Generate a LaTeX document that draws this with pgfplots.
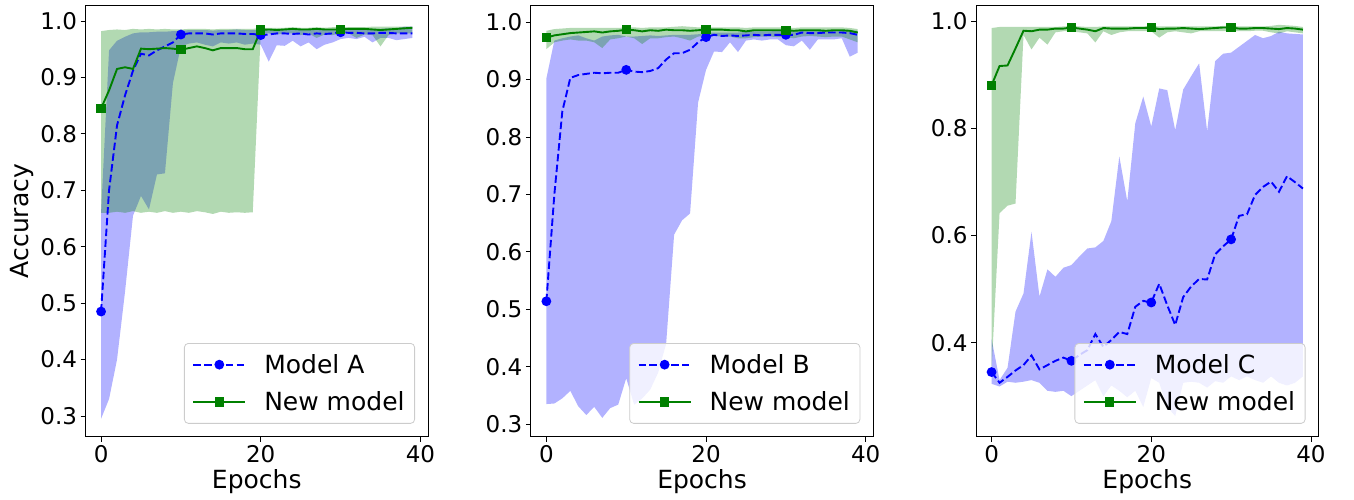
\documentclass[border=0pt]{standalone}
\usepackage{fontspec}
\setmainfont{DejaVu Sans}
\usepackage{pgfplots}
\pgfplotsset{compat=1.18}
\usepackage{pgfplotstable}
\usepgfplotslibrary{fillbetween}
\definecolor{mgreen}{RGB}{0,128,0}
\definecolor{mblue}{RGB}{0,0,255}
\definecolor{legedge}{RGB}{204,204,204}

% Panel 1: Model A
\pgfplotstableread{
x m lo hi
0 0.485 0.295 0.660
1 0.700 0.330 0.948
2 0.815 0.400 0.965
3 0.868 0.520 0.972
4 0.912 0.655 0.978
5 0.942 0.690 0.980
6 0.939 0.666 0.980
7 0.948 0.728 0.981
8 0.955 0.730 0.981
9 0.962 0.890 0.982
10 0.976 0.955 0.982
11 0.978 0.960 0.984
12 0.978 0.962 0.984
13 0.978 0.958 0.984
14 0.976 0.955 0.983
15 0.978 0.962 0.984
16 0.978 0.960 0.984
17 0.978 0.962 0.985
18 0.977 0.958 0.984
19 0.977 0.960 0.984
20 0.975 0.958 0.984
21 0.976 0.928 0.984
22 0.978 0.957 0.985
23 0.978 0.956 0.985
24 0.977 0.965 0.985
25 0.978 0.955 0.984
26 0.976 0.962 0.985
27 0.978 0.950 0.985
28 0.977 0.958 0.985
29 0.978 0.962 0.985
30 0.980 0.968 0.986
31 0.979 0.970 0.986
32 0.979 0.968 0.986
33 0.978 0.972 0.985
34 0.978 0.962 0.986
35 0.979 0.970 0.986
36 0.979 0.970 0.987
37 0.978 0.966 0.987
38 0.978 0.968 0.990
39 0.978 0.970 0.990
}\tAa
\pgfplotstableread{
x m lo hi
0 0.845 0.660 0.982
1 0.877 0.660 0.984
2 0.915 0.662 0.985
3 0.918 0.660 0.984
4 0.915 0.663 0.986
5 0.951 0.660 0.985
6 0.950 0.662 0.986
7 0.951 0.660 0.985
8 0.952 0.663 0.986
9 0.951 0.660 0.985
10 0.949 0.662 0.985
11 0.952 0.660 0.986
12 0.955 0.663 0.986
13 0.952 0.661 0.986
14 0.948 0.658 0.985
15 0.952 0.662 0.986
16 0.952 0.660 0.986
17 0.952 0.661 0.986
18 0.950 0.660 0.986
19 0.950 0.661 0.986
20 0.984 0.978 0.988
21 0.985 0.978 0.988
22 0.984 0.976 0.988
23 0.985 0.978 0.988
24 0.986 0.978 0.989
25 0.985 0.975 0.988
26 0.985 0.978 0.988
27 0.986 0.970 0.989
28 0.985 0.976 0.988
29 0.985 0.975 0.989
30 0.985 0.978 0.989
31 0.986 0.978 0.989
32 0.986 0.970 0.989
33 0.986 0.976 0.989
34 0.985 0.975 0.990
35 0.984 0.955 0.990
36 0.985 0.975 0.990
37 0.986 0.978 0.990
38 0.987 0.978 0.990
39 0.988 0.978 0.990
}\tAn

% Panel 2: Model B
\pgfplotstableread{
x m lo hi
0 0.514 0.335 0.902
1 0.700 0.336 0.968
2 0.845 0.345 0.972
3 0.903 0.358 0.975
4 0.908 0.331 0.977
5 0.910 0.316 0.972
6 0.912 0.330 0.968
7 0.911 0.311 0.975
8 0.912 0.328 0.977
9 0.912 0.334 0.978
10 0.917 0.380 0.975
11 0.914 0.334 0.975
12 0.913 0.345 0.976
13 0.915 0.360 0.977
14 0.920 0.390 0.976
15 0.935 0.440 0.977
16 0.946 0.630 0.978
17 0.946 0.655 0.978
18 0.952 0.667 0.978
19 0.965 0.860 0.979
20 0.974 0.917 0.981
21 0.978 0.949 0.982
22 0.976 0.948 0.982
23 0.977 0.965 0.982
24 0.976 0.948 0.982
25 0.977 0.968 0.983
26 0.978 0.970 0.984
27 0.977 0.968 0.984
28 0.978 0.970 0.984
29 0.978 0.970 0.985
30 0.978 0.960 0.985
31 0.978 0.958 0.985
32 0.982 0.968 0.986
33 0.981 0.952 0.986
34 0.981 0.970 0.986
35 0.982 0.970 0.986
36 0.982 0.970 0.986
37 0.982 0.972 0.986
38 0.981 0.940 0.986
39 0.978 0.947 0.985
}\tBa
\pgfplotstableread{
x m lo hi
0 0.973 0.953 0.985
1 0.977 0.965 0.988
2 0.979 0.968 0.989
3 0.981 0.970 0.990
4 0.982 0.968 0.990
5 0.983 0.968 0.990
6 0.984 0.965 0.990
7 0.982 0.955 0.990
8 0.984 0.970 0.990
9 0.985 0.972 0.990
10 0.987 0.975 0.991
11 0.986 0.972 0.991
12 0.984 0.962 0.990
13 0.986 0.972 0.991
14 0.985 0.972 0.991
15 0.987 0.974 0.991
16 0.986 0.975 0.992
17 0.986 0.972 0.993
18 0.985 0.968 0.992
19 0.986 0.975 0.991
20 0.987 0.976 0.991
21 0.987 0.976 0.991
22 0.987 0.975 0.991
23 0.986 0.975 0.991
24 0.986 0.972 0.991
25 0.984 0.972 0.990
26 0.986 0.974 0.991
27 0.986 0.975 0.991
28 0.986 0.975 0.991
29 0.986 0.974 0.991
30 0.986 0.974 0.991
31 0.985 0.972 0.990
32 0.986 0.975 0.991
33 0.986 0.976 0.991
34 0.986 0.975 0.991
35 0.985 0.974 0.991
36 0.986 0.975 0.991
37 0.986 0.975 0.991
38 0.985 0.970 0.990
39 0.982 0.965 0.988
}\tBn

% Panel 3: Model C
\pgfplotstableread{
x m lo hi
0 0.345 0.323 0.407
1 0.325 0.318 0.330
2 0.336 0.327 0.353
3 0.348 0.325 0.458
4 0.358 0.327 0.492
5 0.376 0.330 0.607
6 0.350 0.325 0.486
7 0.358 0.310 0.537
8 0.366 0.308 0.523
9 0.372 0.310 0.540
10 0.366 0.300 0.545
11 0.377 0.310 0.561
12 0.386 0.320 0.576
13 0.416 0.330 0.578
14 0.392 0.300 0.590
15 0.405 0.320 0.627
16 0.420 0.310 0.748
17 0.416 0.298 0.664
18 0.467 0.310 0.810
19 0.478 0.280 0.860
20 0.475 0.334 0.804
21 0.510 0.325 0.875
22 0.470 0.280 0.872
23 0.433 0.263 0.797
24 0.485 0.325 0.873
25 0.505 0.327 0.898
26 0.519 0.325 0.922
27 0.518 0.316 0.795
28 0.565 0.328 0.926
29 0.580 0.325 0.940
30 0.593 0.337 0.942
31 0.637 0.330 0.953
32 0.640 0.337 0.964
33 0.676 0.330 0.975
34 0.691 0.325 0.969
35 0.701 0.337 0.973
36 0.682 0.325 0.981
37 0.711 0.320 0.978
38 0.700 0.325 0.977
39 0.688 0.337 0.976
}\tCa
\pgfplotstableread{
x m lo hi
0 0.881 0.350 0.988
1 0.917 0.642 0.990
2 0.918 0.656 0.990
3 0.950 0.660 0.990
4 0.983 0.975 0.990
5 0.982 0.948 0.990
6 0.985 0.970 0.990
7 0.985 0.957 0.990
8 0.987 0.980 0.990
9 0.987 0.982 0.991
10 0.989 0.982 0.992
11 0.987 0.980 0.991
12 0.985 0.978 0.990
13 0.982 0.961 0.990
14 0.988 0.982 0.991
15 0.987 0.975 0.991
16 0.987 0.980 0.991
17 0.987 0.982 0.991
18 0.988 0.982 0.991
19 0.988 0.982 0.991
20 0.989 0.982 0.992
21 0.986 0.970 0.991
22 0.987 0.980 0.991
23 0.987 0.982 0.991
24 0.988 0.980 0.991
25 0.987 0.978 0.991
26 0.986 0.982 0.991
27 0.987 0.982 0.991
28 0.988 0.982 0.991
29 0.989 0.982 0.992
30 0.989 0.983 0.992
31 0.987 0.982 0.991
32 0.987 0.982 0.991
33 0.988 0.983 0.991
34 0.988 0.983 0.991
35 0.987 0.980 0.992
36 0.986 0.978 0.994
37 0.988 0.982 0.993
38 0.987 0.980 0.992
39 0.985 0.978 0.990
}\tCn

\pgfplotsset{
  panel/.style={
    scale only axis,
    width=342.5pt, height=431.6pt,
    xmin=-1.95, xmax=40.95,
    xtick={0,20,40},
    tick pos=left,
    tick align=outside,
    major tick length=5pt,
    tick style={black, line width=0.8pt},
    axis line style={black, line width=0.8pt},
    /pgf/number format/assume math mode=true,
    ticklabel style={font=\fontsize{23}{27}\selectfont},
    yticklabel style={/pgf/number format/fixed, /pgf/number format/fixed zerofill, /pgf/number format/precision=1},
    label style={font=\fontsize{25}{30}\selectfont},
    xlabel={Epochs},
    legend cell align=left,
    legend style={at={(1,0)}, anchor=south east, xshift=-13pt, yshift=13pt,
      font=\fontsize{25}{30}\selectfont,
      draw=legedge, line width=0.8pt, rounded corners=4pt,
      fill=white, fill opacity=0.8, text opacity=1, draw opacity=1,
      inner xsep=8pt, inner ysep=9pt, row sep=13pt,
      nodes={inner sep=2pt},
      /tikz/every odd column/.append style={column sep=16pt}},
    legend image code/.code={
      \draw[##1, mark repeat=2, mark phase=2, fill opacity=1]
        plot coordinates {(0pt,0pt) (26pt,0pt) (52pt,0pt)};
    },
  },
  bandA/.style={fill=mblue, fill opacity=0.3, draw=none, forget plot},
  bandN/.style={fill=mgreen, fill opacity=0.3, draw=none, forget plot},
  lineA/.style={mblue, line width=1.9pt, dash pattern=on 7.5pt off 3.3pt,
    mark=*, mark repeat=10, mark size=3.9pt, mark options={solid, fill=mblue}},
  lineN/.style={mgreen, line width=1.9pt, solid,
    mark=square*, mark repeat=10, mark size=3.7pt, mark options={solid, fill=mgreen}},
}

\begin{document}
\begin{tikzpicture}

% ---------- Panel 1 ----------
\begin{axis}[panel, at={(85.5pt,63.2pt)}, ymin=0.263, ymax=1.028,
  ytick={0.3,0.4,0.5,0.6,0.7,0.8,0.9,1.0}, ylabel={Accuracy}]
\addplot[name path=ahi, draw=none, forget plot] table[x=x,y=hi]{\tAa};
\addplot[name path=alo, draw=none, forget plot] table[x=x,y=lo]{\tAa};
\addplot[bandA] fill between[of=ahi and alo];
\addplot[name path=nhi, draw=none, forget plot] table[x=x,y=hi]{\tAn};
\addplot[name path=nlo, draw=none, forget plot] table[x=x,y=lo]{\tAn};
\addplot[bandN] fill between[of=nhi and nlo];
\addplot[lineA] table[x=x,y=m]{\tAa};
\addlegendentry{Model A}
\addplot[lineN] table[x=x,y=m]{\tAn};
\addlegendentry{New model}
\end{axis}

% ---------- Panel 2 ----------
\begin{axis}[panel, at={(530.8pt,63.2pt)}, ymin=0.278, ymax=1.0296,
  ytick={0.3,0.4,0.5,0.6,0.7,0.8,0.9,1.0}]
\addplot[name path=bhi, draw=none, forget plot] table[x=x,y=hi]{\tBa};
\addplot[name path=blo, draw=none, forget plot] table[x=x,y=lo]{\tBa};
\addplot[bandA] fill between[of=bhi and blo];
\addplot[name path=mhi, draw=none, forget plot] table[x=x,y=hi]{\tBn};
\addplot[name path=mlo, draw=none, forget plot] table[x=x,y=lo]{\tBn};
\addplot[bandN] fill between[of=mhi and mlo];
\addplot[lineA] table[x=x,y=m]{\tBa};
\addlegendentry{Model B}
\addplot[lineN] table[x=x,y=m]{\tBn};
\addlegendentry{New model}
\end{axis}

% ---------- Panel 3 ----------
\begin{axis}[panel, at={(976pt,63.2pt)}, ymin=0.224, ymax=1.0307,
  ytick={0.4,0.6,0.8,1.0}]
\addplot[name path=chi, draw=none, forget plot] table[x=x,y=hi]{\tCa};
\addplot[name path=clo, draw=none, forget plot] table[x=x,y=lo]{\tCa};
\addplot[bandA] fill between[of=chi and clo];
\addplot[name path=khi, draw=none, forget plot] table[x=x,y=hi]{\tCn};
\addplot[name path=klo, draw=none, forget plot] table[x=x,y=lo]{\tCn};
\addplot[bandN] fill between[of=khi and klo];
\addplot[lineA] table[x=x,y=m]{\tCa};
\addlegendentry{Model C}
\addplot[lineN] table[x=x,y=m]{\tCn};
\addlegendentry{New model}
\end{axis}

\path (0,0) rectangle (1354pt,500pt);
\end{tikzpicture}
\end{document}
